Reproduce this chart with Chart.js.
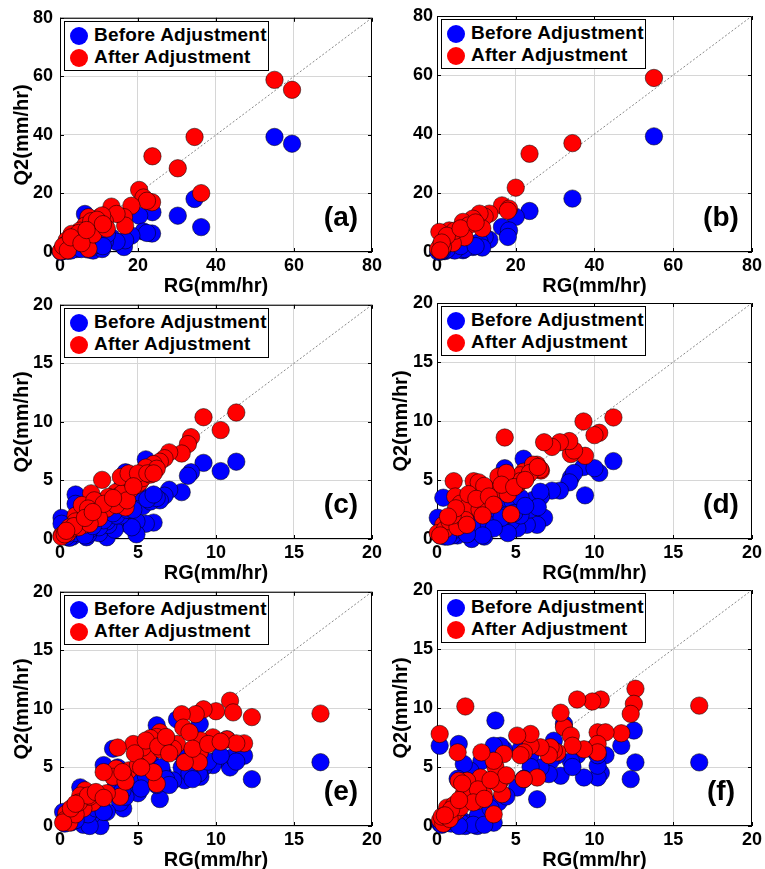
<!DOCTYPE html>
<html>
<head>
<meta charset="utf-8">
<title>Q2 vs RG</title>
<script src="https://cdn.jsdelivr.net/npm/chart.js@4.4.0/dist/chart.umd.min.js"></script>
<style>
  html, body { margin: 0; padding: 0; background: #fff; overflow: hidden; }
  #page { position: relative; width: 765px; height: 869px; }
  canvas { position: absolute; }
  .legend { position: absolute; width: 205px; height: 50px; background: #fff; border: 1px solid #000; box-sizing: border-box;
            font: bold 19px 'Liberation Sans', Arial, sans-serif; color: #000; }
  .legend div { position: absolute; left: 5px; height: 20px; line-height: 20px; white-space: nowrap; letter-spacing: 0.2px; }
  .legend span { display: inline-block; width: 18px; height: 18px; border-radius: 50%; vertical-align: -4px; margin-right: 6px; }
  .tag { position: absolute; font: bold 28px 'Liberation Sans', Arial, sans-serif; color: #000; transform: translate(-50%, -50%); }
</style>
</head>
<body>
<div id="page"></div>

<script>
// ---------------- data ----------------
const seriesNames = ['Before Adjustment', 'After Adjustment'];
const panelTags = ['(a)', '(b)', '(c)', '(d)', '(e)', '(f)'];
const ticksWide = [0, 20, 40, 60, 80];
const ticksNarrow = [0, 5, 10, 15, 20];

// (a)
const rgA     = [55.0, 59.5, 34.5, 36.2, 30.2, 23.7, 23.6, 20.3, 21.4, 22.3, 18.3, 16.4, 16.7, 13.2, 14.5, 10.2, 7.3, 7.7, 6.4, 5.1, 3.0, 1.7, 4.3, 7.3, 6.0, 9.0, 11.5, 2.5, 1.0, 0.5, 0.2, 1.5, 3.5, 8.5, 0.8, 2.0, 12.0, 10.8, 4.8, 8.0, 9.5, 11.0, 2.8, 5.5, 6.8];
const beforeA = [39.3, 37.0, 18.1, 8.5, 12.4, 13.6, 6.3, 12.4, 7.0, 6.5, 5.6, 1.7, 4.0, 5.0, 3.5, 4.5, 8.0, 5.0, 13.0, 3.0, 2.5, 1.5, 1.0, 0.8, 2.5, 3.0, 3.5, 1.0, 0.5, 0.3, 0.1, 0.8, 1.5, 0.5, 1.2, 0.4, 6.0, 1.0, 2.0, 1.5, 2.5, 2.0, 0.5, 1.0, 3.0];
const afterA  = [58.8, 55.4, 39.3, 20.1, 28.6, 32.7, 17.0, 21.2, 18.6, 17.5, 15.8, 11.9, 9.0, 15.5, 13.0, 11.9, 11.9, 9.6, 9.0, 7.3, 6.2, 4.0, 4.0, 1.1, 5.0, 8.0, 10.5, 3.0, 1.5, 0.8, 0.3, 2.5, 4.5, 6.0, 2.0, 0.6, 8.0, 12.5, 6.5, 10.5, 11.0, 9.5, 5.0, 3.0, 7.5];

// (b)
const rgB     = [55.1, 34.4, 23.5, 20.0, 16.5, 18.3, 18.0, 13.3, 12.1, 10.8, 9.1, 6.6, 8.0, 3.1, 0.6, 5.0, 7.0, 2.0, 1.0, 0.3, 4.0, 11.5, 1.5, 4.5, 2.5, 6.0, 9.8, 1.2, 0.8];
const beforeB = [39.2, 18.1, 13.9, 11.9, 8.5, 7.3, 5.1, 4.2, 5.1, 3.5, 1.7, 0.6, 2.5, 1.0, 0.5, 1.5, 1.0, 0.3, 0.2, 0.1, 0.8, 1.5, 0.5, 0.5, 0.8, 2.0, 2.0, 0.3, 0.2];
const afterB  = [59.0, 36.9, 33.3, 21.8, 15.8, 14.7, 14.0, 13.0, 12.0, 13.0, 11.3, 10.2, 9.0, 7.3, 6.8, 6.0, 5.0, 4.0, 2.5, 1.0, 3.0, 8.0, 1.8, 7.2, 5.5, 8.0, 10.0, 3.2, 0.5];

// (c)
const rgC     = [11.3, 10.3, 9.2, 8.4, 8.2, 7.8, 7.0, 6.7, 6.4, 6.0, 5.5, 5.5, 4.9, 4.9, 4.3, 4.2, 3.6, 3.0, 2.7, 1.0, 1.0, 0.1, 0.1, 1.7, 2.0, 2.3, 3.3, 3.8, 4.5, 5.1, 5.3, 4.0, 1.5, 0.5, 0.8, 1.2, 2.5, 3.5, 5.8, 6.2, 0.3, 1.4, 2.9, 4.6, 3.1, 3.9, 4.4, 2.2, 1.8, 0.6, 5.0,
                 3.0, 3.6, 4.3, 2.5, 1.9, 0.9, 1.6, 2.8, 3.4, 4.7, 5.6, 6.0, 0.4, 2.1];
const beforeC = [6.6, 5.8, 6.5, 5.7, 5.4, 4.0, 4.2, 3.7, 3.3, 1.4, 6.8, 1.3, 1.5, 0.4, 1.3, 5.7, 1.6, 0.15, 3.0, 3.8, 3.0, 1.8, 1.3, 0.15, 2.2, 1.0, 2.5, 2.2, 3.0, 3.5, 2.8, 4.5, 0.7, 0.3, 0.2, 1.5, 0.5, 0.8, 3.2, 3.5, 0.5, 2.5, 1.8, 1.0, 1.2, 2.0, 2.5, 1.5, 0.4, 0.1, 4.0,
                 1.5, 2.0, 2.5, 1.0, 0.8, 0.5, 0.3, 1.6, 2.2, 2.5, 3.4, 3.8, 0.2, 1.1];
const afterC  = [10.8, 9.3, 10.4, 8.7, 8.1, 7.3, 7.4, 6.9, 6.6, 6.4, 5.8, 6.1, 5.1, 4.6, 4.4, 2.7, 4.0, 3.4, 5.05, 2.0, 1.5, 0.3, 0.2, 1.4, 3.9, 2.0, 3.2, 3.7, 4.2, 4.8, 5.2, 3.9, 1.2, 0.5, 0.9, 1.0, 2.4, 3.0, 5.5, 6.0, 0.4, 2.9, 2.6, 4.9, 3.6, 5.3, 5.6, 3.3, 2.6, 1.0, 5.6,
                 2.6, 2.9, 3.3, 1.8, 1.3, 1.1, 1.8, 3.0, 3.5, 4.5, 5.6, 5.6, 0.7, 2.3];

// (d)
const rgD     = [11.2, 10.3, 9.3, 9.4, 8.5, 8.7, 8.4, 7.8, 7.3, 6.6, 5.5, 6.8, 6.35, 5.7, 5.1, 4.7, 3.8, 3.0, 2.2, 4.3, 0.4, 0.05, 1.06, 2.33, 2.65, 1.16, 6.1, 6.56, 1.5, 2.0, 3.5, 4.0, 4.8, 5.3, 5.9, 3.2, 2.7, 0.5, 0.8, 0.2, 1.3, 1.8, 4.5, 5.3, 6.4, 10.0, 3.0, 3.9, 4.4, 2.0, 1.0,
                 2.5, 3.3, 4.1, 1.2, 0.7, 3.6, 4.9, 5.6, 2.9, 1.9];
const beforeD = [6.6, 5.6, 6.1, 3.7, 5.2, 5.6, 4.8, 4.1, 4.1, 3.6, 6.8, 1.8, 1.2, 1.2, 0.9, 1.5, 1.5, 0.2, 0.0, 6.0, 3.5, 1.8, 2.0, 2.5, 1.2, 1.0, 3.3, 4.0, 0.5, 1.0, 2.5, 2.8, 3.2, 3.5, 2.5, 2.0, 1.5, 0.2, 0.5, 0.3, 0.3, 0.6, 0.5, 2.0, 2.7, 6.0, 1.0, 2.2, 2.0, 0.5, 0.3,
                 1.0, 1.2, 1.8, 0.8, 0.2, 0.9, 2.2, 2.8, 0.3, 0.4];
const afterD  = [10.3, 9.0, 9.96, 7.05, 7.2, 7.5, 8.3, 8.2, 7.8, 5.8, 5.7, 8.2, 6.3, 5.3, 4.6, 2.1, 4.3, 3.3, 2.6, 8.6, 1.2, 0.5, 4.9, 4.9, 4.8, 3.6, 6.3, 5.9, 3.0, 2.8, 3.9, 4.2, 5.0, 5.4, 5.6, 3.0, 2.5, 0.8, 1.5, 0.3, 1.0, 1.6, 3.8, 4.9, 6.1, 8.8, 4.5, 5.3, 5.6, 3.8, 2.0,
                 3.4, 3.6, 4.6, 2.6, 1.9, 2.9, 4.4, 5.0, 2.0, 1.2];

// (e)
const rgE     = [16.7, 12.3, 10.9, 11.1, 10.0, 10.7, 11.8, 11.3, 9.8, 9.2, 9.0, 8.96, 8.9, 8.7, 8.0, 7.8, 7.9, 7.5, 7.25, 6.6, 6.4, 6.2, 6.2, 6.0, 5.65, 5.3, 4.7, 4.4, 4.05, 3.85, 3.7, 3.6, 3.4, 2.8, 2.6, 2.1, 1.5, 1.6, 1.3, 0.85, 0.4, 0.3, 0.6, 1.0, 0.2, 5.0, 3.0, 5.8, 6.5, 4.2, 1.9,
                 1.2, 1.8, 2.3, 2.8, 0.7, 1.0, 4.0, 4.8, 5.5, 6.3, 5.2, 6.8, 8.3, 8.5, 9.5, 10.3, 7.0];
const beforeE = [5.45, 4.0, 5.0, 5.9, 5.6, 7.4, 6.0, 5.5, 5.2, 5.0, 4.2, 8.7, 4.5, 6.0, 3.9, 5.0, 6.0, 9.1, 3.9, 4.5, 2.3, 8.6, 3.5, 4.0, 4.2, 4.5, 3.05, 3.5, 1.5, 2.0, 5.0, 3.5, 6.6, 5.2, 0.0, 1.0, 0.1, 2.0, 3.3, 1.0, 0.5, 0.2, 0.4, 0.8, 1.2, 2.8, 1.2, 5.5, 5.0, 2.5, 0.0,
                 1.0, 1.0, 1.5, 1.2, 0.3, 0.5, 3.0, 4.0, 4.3, 4.0, 3.2, 4.0, 4.5, 4.0, 5.5, 6.0, 3.5];
const afterE  = [9.6, 9.3, 10.7, 9.7, 9.8, 7.4, 7.06, 7.06, 7.57, 9.97, 7.3, 6.3, 5.45, 9.55, 5.45, 9.55, 8.4, 7.0, 6.6, 7.0, 8.0, 7.6, 3.6, 4.6, 6.0, 6.7, 7.0, 4.75, 4.3, 2.5, 6.7, 4.9, 4.2, 4.6, 2.5, 2.0, 1.5, 3.05, 2.6, 1.6, 1.07, 0.5, 0.3, 1.0, 0.3, 5.2, 2.8, 7.5, 6.5, 3.8, 2.5,
                 2.0, 2.6, 2.9, 2.4, 1.5, 1.9, 4.6, 6.2, 7.3, 6.8, 5.0, 7.6, 8.0, 6.6, 7.0, 7.2, 6.2];

// (f)
const rgF     = [16.65, 12.6, 12.5, 12.3, 11.7, 10.4, 10.2, 10.7, 10.2, 10.2, 9.86, 9.33, 8.9, 8.06, 7.85, 8.5, 8.6, 7.64, 7.42, 7.21, 7.1, 6.57, 6.36, 5.94, 5.94, 5.51, 5.3, 5.09, 5.51, 4.24, 4.03, 3.82, 3.71, 4.14, 3.6, 3.6, 2.82, 2.97, 2.76, 2.55, 2.12, 1.91, 1.8, 1.7, 1.38, 1.31, 1.27, 0.64, 0.17, 0.2, 0.4, 0.3, 1.0, 0.8,
                 1.1, 1.5, 2.2, 2.6, 3.9, 4.4, 3.4, 1.6, 0.9, 0.5, 2.3, 3.0, 1.4];
const beforeF = [5.39, 5.39, 8.09, 3.97, 6.8, 4.5, 4.11, 6.0, 5.11, 6.0, 6.5, 4.11, 6.0, 8.65, 4.26, 5.5, 5.0, 6.0, 7.23, 5.5, 4.4, 4.96, 2.27, 6.0, 5.0, 3.97, 6.5, 3.26, 4.0, 6.5, 6.8, 4.0, 8.94, 2.41, 0.28, 6.8, 5.5, 3.5, 4.0, 0.0, 4.68, 3.5, 0.0, 5.25, 6.95, 4.0, 0.5, 0.3, 6.8, 0.2, 0.5, 0.1, 1.5, 0.6,
                 0.4, 0.6, 0.3, 0.9, 2.0, 2.5, 1.5, 0.2, 0.2, 0.3, 0.1, 0.1, 0.0];
const afterF  = [10.2, 11.63, 10.35, 9.5, 7.86, 10.72, 7.94, 7.94, 6.95, 6.24, 10.55, 6.5, 10.72, 8.37, 9.6, 7.66, 6.8, 6.24, 6.4, 6.67, 6.0, 6.67, 4.11, 6.8, 7.8, 6.24, 6.0, 7.66, 3.97, 6.1, 3.83, 4.54, 5.0, 2.7, 0.99, 5.53, 6.24, 2.7, 4.11, 2.13, 3.2, 3.83, 10.13, 2.7, 3.83, 6.24, 1.28, 1.56, 7.8, 0.5, 0.2, 0.8, 1.0, 0.6,
                 1.8, 1.6, 2.6, 3.1, 3.6, 4.3, 3.9, 3.6, 1.4, 0.9, 2.0, 2.3, 2.2];

// ---------------- layout ----------------
const FONT = "'Liberation Sans', Arial, sans-serif";
const CANVAS_H = 298;

const panels = [
  { left: 0,   top: 0,   width: 385, yw: 60, rg: rgA, before: beforeA, after: afterA, ticks: ticksWide,   yTitle: true,  tpad: 10, lpad: 7 },
  { left: 385, top: 0,   width: 380, yw: 52, rg: rgB, before: beforeB, after: afterB, ticks: ticksWide,   yTitle: false, tpad: 4,  lpad: 4 },
  { left: 0,   top: 287, width: 385, yw: 60, rg: rgC, before: beforeC, after: afterC, ticks: ticksNarrow, yTitle: true,  tpad: 10, lpad: 7 },
  { left: 385, top: 287, width: 380, yw: 52, rg: rgD, before: beforeD, after: afterD, ticks: ticksNarrow, yTitle: true,  tpad: 4,  lpad: 4 },
  { left: 0,   top: 574, width: 385, yw: 60, rg: rgE, before: beforeE, after: afterE, ticks: ticksNarrow, yTitle: true,  tpad: 10, lpad: 7 },
  { left: 385, top: 574, width: 380, yw: 52, rg: rgF, before: beforeF, after: afterF, ticks: ticksNarrow, yTitle: true,  tpad: 4,  lpad: 4 }
];

function pts(xs, ys) {
  return xs.map((x, i) => ({ x: x, y: ys[i] }));
}

// box round the axes with inward tick marks, like the matlab figure
const axesBox = {
  id: 'axesBox',
  beforeDatasetsDraw(chart) {
    const { ctx, chartArea: a, scales: { x, y } } = chart;
    ctx.save();
    ctx.strokeStyle = '#000';
    ctx.lineWidth = 1;
    ctx.strokeRect(a.left + 0.5, a.top + 0.5, a.right - a.left - 1, a.bottom - a.top - 1);
    ctx.beginPath();
    x.ticks.forEach(t => {
      const px = Math.round(x.getPixelForValue(t.value)) + 0.5;
      ctx.moveTo(px, a.bottom); ctx.lineTo(px, a.bottom - 4);
      ctx.moveTo(px, a.top); ctx.lineTo(px, a.top + 4);
    });
    y.ticks.forEach(t => {
      const py = Math.round(y.getPixelForValue(t.value)) + 0.5;
      ctx.moveTo(a.left, py); ctx.lineTo(a.left + 4, py);
      ctx.moveTo(a.right, py); ctx.lineTo(a.right - 4, py);
    });
    ctx.stroke();
    ctx.restore();
  }
};

const page = document.getElementById('page');

panels.forEach((p, k) => {
  const canvas = document.createElement('canvas');
  canvas.width = p.width;
  canvas.height = CANVAS_H;
  canvas.style.left = p.left + 'px';
  canvas.style.top = p.top + 'px';
  canvas.style.width = p.width + 'px';
  canvas.style.height = CANVAS_H + 'px';
  page.appendChild(canvas);

  const max = p.ticks[p.ticks.length - 1];

  const chart = new Chart(canvas, {
    type: 'scatter',
    data: {
      datasets: [
        {
          label: seriesNames[1],
          data: pts(p.rg, p.after),
          backgroundColor: '#ff0000',
          borderColor: 'rgba(0,0,0,0.75)',
          borderWidth: 0.7,
          pointRadius: 8.7,
          clip: false,
          order: 0
        },
        {
          label: seriesNames[0],
          data: pts(p.rg, p.before),
          backgroundColor: '#0000ff',
          borderColor: 'rgba(0,0,0,0.75)',
          borderWidth: 0.7,
          pointRadius: 8.7,
          clip: false,
          order: 1
        },
        {
          label: '1:1',
          data: [{ x: 0, y: 0 }, { x: max, y: max }],
          showLine: true,
          pointRadius: 0,
          borderColor: '#6a6a6a',
          borderWidth: 0.8,
          borderDash: [2, 2],
          order: 2
        }
      ]
    },
    options: {
      responsive: false,
      animation: false,
      layout: { padding: { left: 0, top: 16, right: 12, bottom: 0 } },
      plugins: { legend: { display: false }, tooltip: { enabled: false } },
      scales: {
        x: {
          type: 'linear', min: 0, max: max,
          afterBuildTicks: s => { s.ticks = p.ticks.map(v => ({ value: v })); },
          afterFit: s => { s.height = 46; },
          grid: { color: '#d6d6d6', drawTicks: false },
          border: { display: false },
          ticks: { padding: 3, color: '#000', font: { family: FONT, size: 18, weight: 'bold' } },
          title: { display: true, text: 'RG(mm/hr)', color: '#000', padding: 0,
                   font: { family: FONT, size: 20, weight: 'bold' } }
        },
        y: {
          type: 'linear', min: 0, max: max,
          afterBuildTicks: s => { s.ticks = p.ticks.map(v => ({ value: v })); },
          afterFit: s => { s.width = p.yw; },
          grid: { color: '#d6d6d6', drawTicks: false },
          border: { display: false },
          ticks: { padding: p.lpad, color: '#000', font: { family: FONT, size: 18, weight: 'bold' } },
          title: { display: p.yTitle, text: 'Q2(mm/hr)', color: '#000', padding: { top: p.tpad, bottom: 0 },
                   font: { family: FONT, size: 20, weight: 'bold' } }
        }
      }
    },
    plugins: [axesBox]
  });

  const a = chart.chartArea;

  // legend box inside the axes, top left
  const lg = document.createElement('div');
  lg.className = 'legend';
  lg.style.left = (p.left + a.left + 4) + 'px';
  lg.style.top = (p.top + a.top + 3) + 'px';
  lg.innerHTML =
    '<div style="top:3px"><span style="background:#0000ff"></span>' + seriesNames[0] + '</div>' +
    '<div style="top:25px"><span style="background:#ff0000"></span>' + seriesNames[1] + '</div>';
  page.appendChild(lg);

  // panel letter, bottom right
  const tag = document.createElement('div');
  tag.className = 'tag';
  tag.textContent = panelTags[k];
  tag.style.left = (p.left + a.right - 31) + 'px';
  tag.style.top = (p.top + a.bottom - 35) + 'px';
  page.appendChild(tag);
});
</script>
</body>
</html>
